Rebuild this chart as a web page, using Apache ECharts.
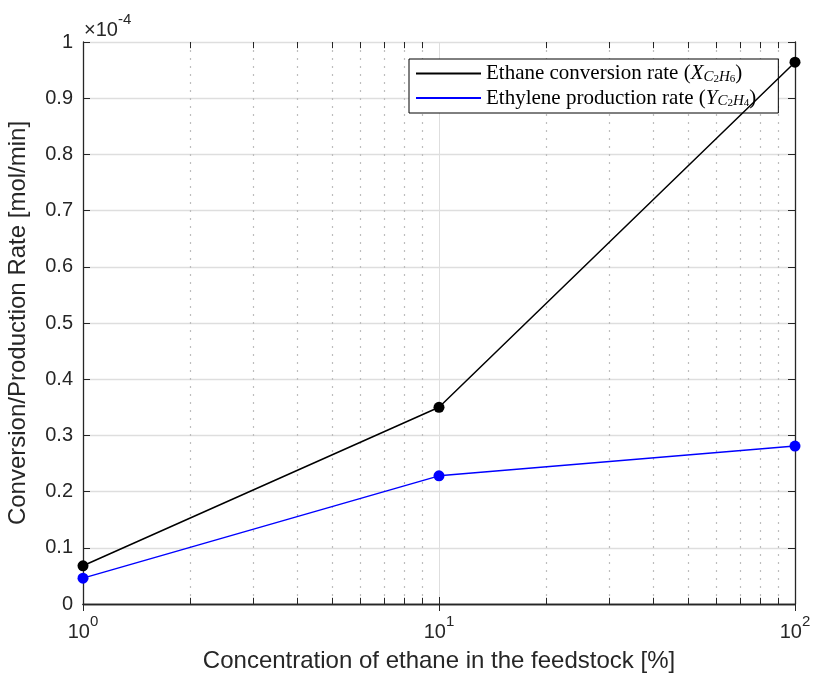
<!DOCTYPE html>
<html>
<head>
<meta charset="utf-8">
<script src="https://cdn.jsdelivr.net/npm/echarts@6/dist/echarts.min.js"></script>
<style>html,body{margin:0;padding:0;background:#fff}#c{width:814px;height:677px}</style>
</head>
<body>
<div id="c"></div>
<script>
// Concentration of ethane in feedstock [%]
const concentrations = [1, 10, 100];
// Values in units of 1e-4 mol/min
const ethaneConversion = [0.068, 0.350, 0.964];
const ethyleneProduction = [0.046, 0.228, 0.281];
const yTicks = [0, 0.1, 0.2, 0.3, 0.4, 0.5, 0.6, 0.7, 0.8, 0.9, 1];
const xMajorTicks = [1, 10, 100];
const xMinorTicks = [2, 3, 4, 5, 6, 7, 8, 9, 20, 30, 40, 50, 60, 70, 80, 90];

const axisColor = '#262626';
const font = 'Liberation Sans, Arial, sans-serif';
const serif = 'Liberation Serif, DejaVu Serif, serif';

const minorGrid = xMinorTicks.map(v => ({xAxis: v}));
const minorTickLines = [];
xMinorTicks.forEach(v => {
  minorTickLines.push([{coord: [v, 0]}, {coord: [v, 0.011]}]);
  minorTickLines.push([{coord: [v, 1]}, {coord: [v, 0.989]}]);
});

const chart = echarts.init(document.getElementById('c'), null, {renderer: 'canvas'});
chart.setOption({
  animation: false,
  backgroundColor: '#fff',
  grid: {left: 83, right: 19, top: 42, bottom: 73, containLabel: false, outerBoundsMode: 'none'},
  legend: {
    orient: 'vertical',
    left: 409, top: 59,
    padding: [4, 22, 4, 7],
    itemGap: 3,
    itemWidth: 65, itemHeight: 2,
    icon: 'rect',
    borderColor: '#000', borderWidth: 1,
    backgroundColor: '#fff',
    data: ['conv', 'prod'],
    formatter: function (n) {
      if (n === 'conv') return '{t|Ethane conversion rate (}{i|X}{s|C}{ss|2}{s|H}{ss|6}{t|)}';
      return '{t|Ethylene production rate (}{i|Y}{s|C}{ss|2}{s|H}{ss|4}{t|)}';
    },
    textStyle: {
      fontFamily: serif, fontSize: 21, color: '#000',
      rich: {
        t: {fontFamily: serif, fontSize: 21, color: '#000', lineHeight: 22, verticalAlign: 'middle'},
        i: {fontFamily: serif, fontStyle: 'italic', fontSize: 21, color: '#000', lineHeight: 22, verticalAlign: 'middle'},
        s: {fontFamily: serif, fontStyle: 'italic', fontSize: 15, color: '#000', verticalAlign: 'bottom', lineHeight: 10},
        ss: {fontFamily: serif, fontSize: 11, color: '#000', verticalAlign: 'bottom', lineHeight: 4}
      }
    }
  },
  xAxis: [{
    type: 'log', logBase: 10, min: 1, max: 100,
    name: 'Concentration of ethane in the feedstock [%]',
    nameLocation: 'middle', nameGap: 45,
    nameTextStyle: {fontFamily: font, fontSize: 24, color: axisColor},
    axisLine: {lineStyle: {color: axisColor, width: 1.3}},
    axisTick: {inside: true, length: 7, lineStyle: {color: axisColor}},
    splitLine: {show: true, lineStyle: {color: '#dedede', width: 1}},
    axisLabel: {
      margin: 10,
      formatter: function (v) { return '{b|10}{p|' + Math.round(Math.log10(v)) + '}'; },
      rich: {
        b: {fontFamily: font, fontSize: 20, color: axisColor, verticalAlign: 'bottom', lineHeight: 28},
        p: {fontFamily: font, fontSize: 15, color: axisColor, verticalAlign: 'top', lineHeight: 28}
      }
    }
  }, {
    type: 'log', logBase: 10, min: 1, max: 100, position: 'top',
    axisLine: {show: true, lineStyle: {color: axisColor, width: 1.3}},
    axisTick: {inside: true, length: 7, lineStyle: {color: axisColor}},
    axisLabel: {show: false}, splitLine: {show: false}
  }],
  yAxis: [{
    type: 'value', min: 0, max: 1, interval: 0.1,
    name: 'Conversion/Production Rate [mol/min]',
    nameLocation: 'middle', nameGap: 53,
    nameTextStyle: {fontFamily: font, fontSize: 24, color: axisColor},
    axisLine: {show: true, lineStyle: {color: axisColor, width: 1.3}},
    axisTick: {show: true, inside: true, length: 7, lineStyle: {color: axisColor}},
    splitLine: {show: true, lineStyle: {color: '#dedede', width: 1.3}},
    axisLabel: {
      fontFamily: font, fontSize: 20, color: axisColor, margin: 10,
      formatter: function (v) { return String(+v.toFixed(1)); }
    }
  }, {
    type: 'value', min: 0, max: 1, interval: 0.1, position: 'right',
    axisLine: {show: true, lineStyle: {color: axisColor, width: 1.3}},
    axisTick: {show: true, inside: true, length: 7, lineStyle: {color: axisColor}},
    axisLabel: {show: false}, splitLine: {show: false}
  }],
  graphic: [{
    type: 'text', left: 84, top: 12,
    style: {
      text: '{a|\u00d710}{b|-4}',
      rich: {
        a: {fontFamily: font, fontSize: 20, fill: axisColor, verticalAlign: 'bottom', lineHeight: 28},
        b: {fontFamily: font, fontSize: 15, fill: axisColor, verticalAlign: 'top', lineHeight: 28}
      }
    }
  }],
  series: [{
    name: 'conv', type: 'line',
    data: concentrations.map((c, i) => [c, ethaneConversion[i]]),
    symbol: 'circle', symbolSize: 11,
    itemStyle: {color: '#000'}, lineStyle: {color: '#000', width: 1.5},
    z: 5,
    markLine: {
      silent: true, symbol: ['none', 'none'], label: {show: false},
      animation: false, z: 1,
      data: minorGrid,
      lineStyle: {color: '#bdbdbd', type: [2, 6], width: 1.2}
    }
  }, {
    name: 'prod', type: 'line',
    data: concentrations.map((c, i) => [c, ethyleneProduction[i]]),
    symbol: 'circle', symbolSize: 11,
    itemStyle: {color: '#0000ff'}, lineStyle: {color: '#0000ff', width: 1.5},
    z: 5,
    markLine: {
      silent: true, symbol: ['none', 'none'], label: {show: false},
      animation: false, z: 1,
      data: minorTickLines,
      lineStyle: {color: axisColor, type: 'solid', width: 1}
    }
  }]
});
</script>
</body>
</html>
